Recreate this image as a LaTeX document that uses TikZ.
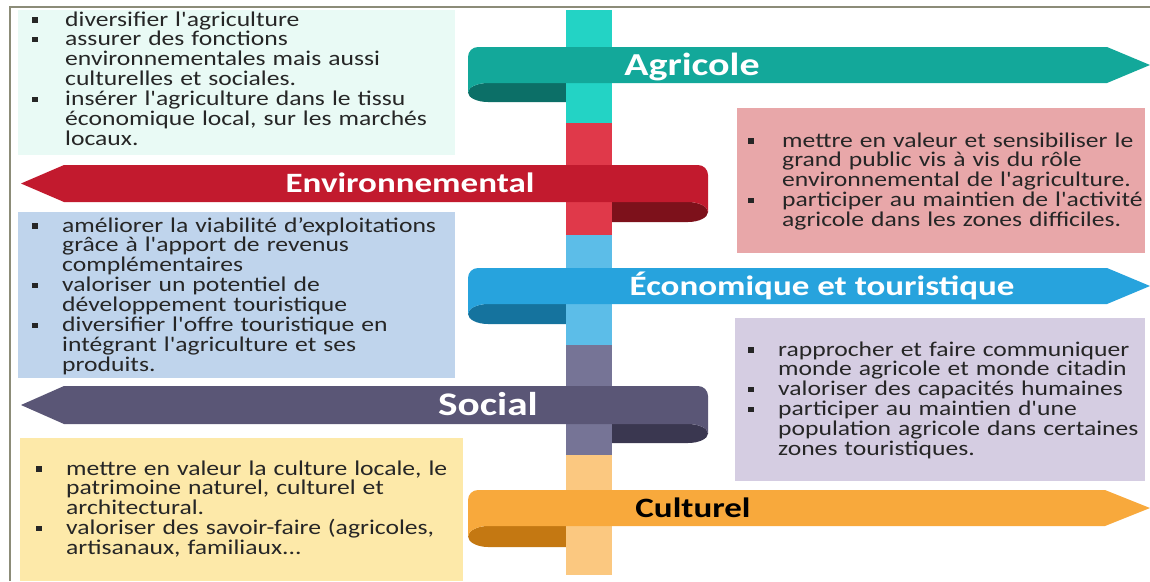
\documentclass[tikz,border=0pt]{standalone}
\usepackage{fontspec}
\newfontfamily\bodyfont[FakeStretch=1.22,Ligatures=TeXOff]{Carlito}
\newfontfamily\labfont[FakeStretch=1.25]{Carlito}
\newlength\bulind
\setlength\bulind{32pt}
\newcommand{\bul}{\hangindent=\bulind\hangafter=1\noindent\makebox[\bulind][l]{\raisebox{3.5pt}{\rule{5.5pt}{5.5pt}}}}
\definecolor{frame}{HTML}{8C8C78}
\definecolor{txt}{HTML}{262626}
\definecolor{boxA}{HTML}{E9FAF5}
\definecolor{boxB}{HTML}{E8A7A9}
\definecolor{boxC}{HTML}{BFD4EC}
\definecolor{boxD}{HTML}{D5CDE2}
\definecolor{boxE}{HTML}{FDE9A9}
\definecolor{poleA}{HTML}{23D3C5}
\definecolor{poleB}{HTML}{E0394A}
\definecolor{poleC}{HTML}{5CBDE8}
\definecolor{poleD}{HTML}{767496}
\definecolor{poleE}{HTML}{FBC880}
\definecolor{bandA}{HTML}{13A89A}
\definecolor{darkA}{HTML}{0C6F67}
\definecolor{bandB}{HTML}{C21A2E}
\definecolor{darkB}{HTML}{7D111B}
\definecolor{bandC}{HTML}{27A3DD}
\definecolor{darkC}{HTML}{15739E}
\definecolor{bandD}{HTML}{5A5676}
\definecolor{darkD}{HTML}{3A3750}
\definecolor{bandE}{HTML}{F8A93C}
\definecolor{darkE}{HTML}{C47812}
\begin{document}
\begin{tikzpicture}[x=1pt,y=-1pt,
  boxtext/.style={anchor=base west, inner sep=0pt, text width=#1, text=txt,
    font=\bodyfont\fontsize{21}{19.9}\selectfont},
  bantext/.style={anchor=base, inner sep=0pt, text=white, font=\labfont\bfseries\fontsize{#1}{#1}\selectfont}]
\useasboundingbox (0,0) rectangle (1150,581);
\fill[white] (0,0) rectangle (1150,581);
% boxes
\fill[boxA] (18,10) rectangle (455,155);
\fill[boxB] (737,108) rectangle (1145,253);
\fill[boxC] (18,212) rectangle (455,378);
\fill[boxD] (735,318) rectangle (1145,481);
\fill[boxE] (20,438) rectangle (463,581);
% dark curls
\fill[darkA] (590,83) -- (488,83) .. controls (477,83) and (468,87.3) .. (468,92.5) .. controls (468,97.7) and (477,102) .. (488,102) -- (590,102) -- cycle;
\fill[darkB] (590,202) -- (688,202) .. controls (699,202) and (708,206.5) .. (708,212) .. controls (708,217.5) and (699,222) .. (688,222) -- (590,222) -- cycle;
\fill[darkC] (590,304) -- (488,304) .. controls (477,304) and (468,308.5) .. (468,314) .. controls (468,319.5) and (477,324) .. (488,324) -- (590,324) -- cycle;
\fill[darkD] (590,424) -- (688,424) .. controls (699,424) and (708,428.3) .. (708,433.5) .. controls (708,438.7) and (699,443) .. (688,443) -- (590,443) -- cycle;
\fill[darkE] (590,526) -- (488,526) .. controls (477,526) and (468,531) .. (468,536.5) .. controls (468,542) and (477,547) .. (488,547) -- (590,547) -- cycle;
% pole
\fill[poleA] (566,10) rectangle (612,123);
\fill[poleB] (566,123) rectangle (612,235);
\fill[poleC] (566,235) rectangle (612,345);
\fill[poleD] (566,345) rectangle (612,455);
\fill[poleE] (566,455) rectangle (612,575);
% bands
\fill[bandA] (478,47) -- (1107,47) -- (1150,65) -- (1107,83) -- (488,83) .. controls (477,83) and (468,87.3) .. (468,92.5) -- (468,57) .. controls (468,51.5) and (472.5,47) .. (478,47) -- cycle;
\fill[bandB] (64,165) -- (698,165) .. controls (703.5,165) and (708,169.5) .. (708,175) -- (708,212) .. controls (708,206.5) and (699,202) .. (688,202) -- (64,202) -- (21,183.5) -- cycle;
\fill[bandC] (478,268) -- (1107,268) -- (1150,286) -- (1107,304) -- (488,304) .. controls (477,304) and (468,308.5) .. (468,314) -- (468,278) .. controls (468,272.5) and (472.5,268) .. (478,268) -- cycle;
\fill[bandD] (64,386) -- (698,386) .. controls (703.5,386) and (708,390.5) .. (708,396) -- (708,433.5) .. controls (708,428.3) and (699,424) .. (688,424) -- (64,424) -- (21,405) -- cycle;
\fill[bandE] (478,490) -- (1105,490) -- (1150,508) -- (1105,526) -- (488,526) .. controls (477,526) and (468,531) .. (468,536.5) -- (468,500) .. controls (468,494.5) and (472.5,490) .. (478,490) -- cycle;
% band labels
\node[bantext=32] (agl) at (692,75) {Agricole};
\node[bantext=28] (envl) at (410,192.5) {Environnemental};
\node[bantext=28] (ecol) at (822,295) {Économique et touristique};
\node[bantext=33] (socl) at (488,415.5) {Social};
\node[bantext=28, text=black] (cull) at (693,517) {Culturel};
% box texts
\node[boxtext=420pt] (t1) at (32,26) {\setlength\bulind{33pt}%
\bul diversifier l'agriculture\par
\bul assurer des fonctions\newline environnementales mais aussi\newline culturelles et sociales.\par
\bul insérer l'agriculture dans le tissu\newline économique local, sur les marchés\newline locaux.\par};
\node[boxtext=400pt] (t2) at (748,147) {\setlength\bulind{34pt}%
\bul mettre en valeur et sensibiliser le\newline grand public vis à vis du rôle\newline environnemental de l'agriculture.\par
\bul participer au maintien de l'activité\newline agricole dans les zones difficiles.\par};
\node[boxtext=420pt] (t3) at (32,232) {\setlength\bulind{30pt}%
\bul améliorer la viabilité d’exploitations\newline grâce à l'apport de revenus\newline complémentaires\par
\bul valoriser un potentiel de\newline développement touristique\par
\bul diversifier l'offre touristique en\newline intégrant l'agriculture et ses\newline produits.\par};
\node[boxtext=400pt] (t4) at (748,356) {\setlength\bulind{30pt}%
\bul rapprocher et faire communiquer\newline monde agricole et monde citadin\par
\bul valoriser des capacités humaines\par
\bul participer au maintien d'une\newline population agricole dans certaines\newline zones touristiques.\par};
\node[boxtext=420pt] (t5) at (36,475) {\setlength\bulind{30pt}%
\bul mettre en valeur la culture locale, le\newline patrimoine naturel, culturel et\newline architectural.\par
\bul valoriser des savoir-faire (agricoles,\newline artisanaux, familiaux...\par};
% frame
\draw[frame, line width=1.6pt] (10,581) -- (10,7) -- (1150,7);
\end{tikzpicture}
\end{document}
